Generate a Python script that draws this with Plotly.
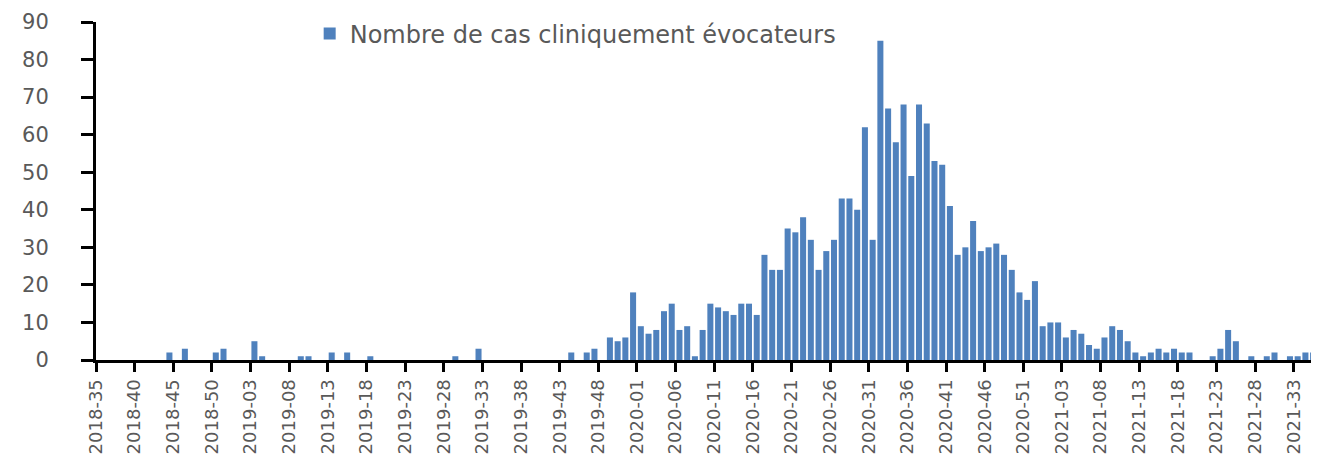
import plotly.graph_objects as go

# ISO weeks in each year covered by the chart (2018-35 .. 2021-35)
year_weeks = [(2018, 35, 52), (2019, 1, 52), (2020, 1, 53), (2021, 1, 35)]
weeks = [f"{y}-{w:02d}" for (y, a, b) in year_weeks for w in range(a, b + 1)]

cases = [
    0, 0, 0, 0, 0, 0, 0, 0, 0, 2,      # 0-9
    0, 3, 0, 0, 0, 2, 3, 0, 0, 0,      # 10-19
    5, 1, 0, 0, 0, 0, 1, 1, 0, 0,      # 20-29
    2, 0, 2, 0, 0, 1, 0, 0, 0, 0,      # 30-39
    0, 0, 0, 0, 0, 0, 1, 0, 0, 3,      # 40-49
    0, 0, 0, 0, 0, 0, 0, 0, 0, 0,      # 50-59
    0, 2, 0, 2, 3, 0, 6, 5, 6, 18,     # 60-69
    9, 7, 8, 13, 15, 8, 9, 1, 8, 15,   # 70-79
    14, 13, 12, 15, 15, 12, 28, 24, 24, 35,   # 80-89
    34, 38, 32, 24, 29, 32, 43, 43, 40, 62,   # 90-99
    32, 85, 67, 58, 68, 49, 68, 63, 53, 52,   # 100-109
    41, 28, 30, 37, 29, 30, 31, 28, 24, 18,   # 110-119
    16, 21, 9, 10, 10, 6, 8, 7, 4, 3,         # 120-129
    6, 9, 8, 5, 2, 1, 2, 3, 2, 3,             # 130-139
    2, 2, 0, 0, 1, 3, 8, 5, 0, 1,             # 140-149
    0, 1, 2, 0, 1, 1, 2, 2,                   # 150-157
]

series_name = "Nombre de cas cliniquement évocateurs"
label_step = 5
y_ticks = [0, 10, 20, 30, 40, 50, 60, 70, 80, 90]

x_pos = list(range(len(weeks)))
tick_idx = list(range(0, len(weeks), label_step))
tick_vals = [i - 0.5 for i in tick_idx]
tick_text = [weeks[i] for i in tick_idx]

GREY = "#595959"

fig = go.Figure()
fig.add_trace(go.Bar(
    x=x_pos, y=cases, name=series_name,
    marker=dict(color="#4F81BD", line=dict(width=0)),
    showlegend=True,
))

# page body has an 8px margin, so the figure is offset by (8, 8)
fig.update_layout(
    width=1311, height=447,
    margin=dict(l=88, r=2, t=14, b=95, autoexpand=False),
    paper_bgcolor="white", plot_bgcolor="white",
    bargap=0.22,
    font=dict(family="DejaVu Sans", color=GREY),
    legend=dict(
        orientation="h", x=0.175, xanchor="left", y=0.965, yanchor="middle",
        bgcolor="rgba(0,0,0,0)", font=dict(size=24, color=GREY, family="DejaVu Sans"),
        itemsizing="constant",
    ),
    xaxis=dict(
        range=[-0.5, len(weeks) - 0.5],
        tickmode="array", tickvals=tick_vals, ticktext=tick_text,
        tickangle=-90, tickfont=dict(size=18, color=GREY),
        ticks="outside", ticklen=9, tickwidth=2.5, tickcolor="black",
        showline=True, linecolor="black", linewidth=3,
        showgrid=False, zeroline=False, automargin=False,
    ),
    yaxis=dict(
        range=[0, 90], tickmode="array", tickvals=y_ticks,
        tickfont=dict(size=21, color=GREY),
        ticks="outside", ticklen=12, tickwidth=2.5, tickcolor="black",
        ticklabelstandoff=28,
        showline=True, linecolor="black", linewidth=3,
        showgrid=False, zeroline=False, automargin=False,
    ),
)

fig.write_html("out.html")
